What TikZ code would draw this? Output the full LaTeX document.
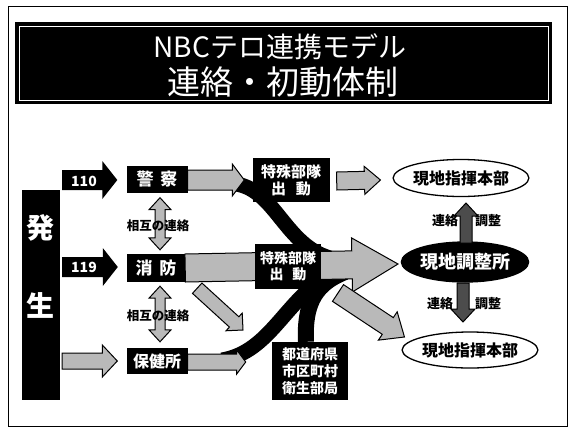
\documentclass[tikz,border=0pt]{standalone}
\usepackage{fontspec}
\newfontfamily\jp{Noto Sans CJK JP}
\usetikzlibrary{calc,shapes.geometric}
\newcommand\barrow[6]{%
 \path[#1] ($(#2)!#4!90:(#3)$) -- ($(#3)!#6!(#2)!#4!90:(#3)$) -- ($(#3)!#6!(#2)!#5!90:(#3)$) -- (#3)
 -- ($(#3)!#6!(#2)!#5!-90:(#3)$) -- ($(#3)!#6!(#2)!#4!-90:(#3)$) -- ($(#2)!#4!-90:(#3)$) -- cycle;}
\newcommand\dbarrow[6]{%
 \path[#1] (#2) -- ($(#2)!#6!(#3)!#5!90:(#3)$) -- ($(#2)!#6!(#3)!#4!90:(#3)$) -- ($(#3)!#6!(#2)!#4!90:(#3)$)
 -- ($(#3)!#6!(#2)!#5!90:(#3)$) -- (#3) -- ($(#3)!#6!(#2)!#5!-90:(#3)$) -- ($(#3)!#6!(#2)!#4!-90:(#3)$)
 -- ($(#2)!#6!(#3)!#4!-90:(#3)$) -- ($(#2)!#6!(#3)!#5!-90:(#3)$) -- cycle;}
\newcommand\fs[1]{\fontsize{#1}{#1}\selectfont}
\begin{document}
\begin{tikzpicture}[x=1pt,y=-1pt,
  blk/.style={fill=black, text=white, inner sep=0pt, font=\jp\bfseries},
  garr/.style={fill=gray!55, draw=black, line width=1pt},
  karr/.style={fill=black},
  darr/.style={fill=black!70, draw=black, line width=1pt},
  band/.style={draw=black, line width=15pt},
  oval/.style={ellipse, draw=black, line width=1.3pt, inner sep=0pt},
  lab/.style={font=\jp\bfseries\fs{13}, text=black, inner sep=0pt}]
\useasboundingbox (0,0) rectangle (571,429);
\fill[white] (0,0) rectangle (571,429);
\draw[line width=0.8pt] (8,6) rectangle (567,426);
% title banner
\node[blk, minimum width=537, minimum height=82] (banner) at (283.5,63) {};
\draw[white, line width=0.6pt] (19,26) rectangle (548,100);
\node[font=\jp\fs{28}, text=white] (t1) at (280,47) {NBCテロ連携モデル};
\node[font=\jp\fs{33}, text=white] (t2) at (283,82) {連絡・初動体制};
% left box
\node[blk, minimum width=38, minimum height=210] (hassei) at (41,295) {};
\node[font=\jp\bfseries\fs{28}, text=white] (hatsu) at (41,228) {発};
\node[font=\jp\bfseries\fs{28}, text=white] (sei) at (41,305) {生};
% main boxes
\node[blk, minimum width=61, minimum height=27, font=\jp\bfseries\fs{17}] (keisatsu) at (157,179) {警\hspace{7pt}察};
\node[blk, minimum width=58, minimum height=28, font=\jp\bfseries\fs{17}] (shobo) at (156,268) {消\hspace{7pt}防};
\node[blk, minimum width=61, minimum height=26, font=\jp\bfseries\fs{16}] (hokenjo) at (157,361) {保健所};
\node[blk, minimum width=77, minimum height=44, align=center, font=\jp\bfseries\fs{15}] (tok1) at (291,180) {特殊部隊\\[2pt]出\hspace{10pt}動};
% ellipses
\node[oval, fill=white, minimum width=118, minimum height=37, font=\jp\bfseries\fs{16}] (hq1) at (461,178) {現地指揮本部};
\node[oval, fill=black, text=white, minimum width=122, minimum height=40, font=\jp\bfseries\fs{18}] (chosei) at (465,262) {現地調整所};
\node[oval, fill=white, minimum width=124, minimum height=36, font=\jp\bfseries\fs{16}] (hq2) at (470,350) {現地指揮本部};
% coordinates
\coordinate (a1s) at ($(hassei.east |- keisatsu.center)+(2,1)$);
\coordinate (a1e) at ($(keisatsu.west)+(-9,1)$);
\coordinate (a2s) at ($(hassei.east |- shobo.center)+(2,-1)$);
\coordinate (a2e) at ($(shobo.west)+(-9,-1)$);
\coordinate (a3s) at ($(hassei.east |- hokenjo.center)+(2,0)$);
\coordinate (a3e) at ($(hokenjo.west)+(-9,0)$);
\coordinate (m1s) at ($(keisatsu.south)+(3,5)$);
\coordinate (m1e) at ($(shobo.north)+(4,-4)$);
\coordinate (m2s) at ($(shobo.south)+(4,4)$);
\coordinate (m2e) at ($(hokenjo.north)+(3,-6)$);
\coordinate (k1s) at ($(keisatsu.east)+(0,1)$);
\coordinate (k1e) at ($(tok1.west)+(-8,0)$);
\coordinate (bigs) at (shobo.east);
\coordinate (bigt) at (398,264);
\coordinate (h1s) at ($(hokenjo.east)+(0,1)$);
\coordinate (h1e) at ($(hokenjo.east)+(58,1)$);
\coordinate (s1s) at ($(shobo.south east)+(12,6)$);
\coordinate (s1e) at (243,330);
\coordinate (d2s) at (338,293);
\coordinate (d2e) at ($(hq2.west)+(3,-13)$);
\coordinate (t1s) at ($(tok1.east)+(7,1)$);
\coordinate (t1e) at ($(hq1.west)+(-12,2)$);
\coordinate (v1s) at (466,243);
\coordinate (v1e) at (466,203);
\coordinate (v2s) at (463,283);
\coordinate (v2e) at (463,322);
% todofuken box
\node[blk, minimum width=76, minimum height=58, align=center, font=\jp\bfseries\fs{14}] (todo) at (310,371) {都道府県\\[3pt]市区町村\\[3pt]衛生部局};
% black converging bands
\draw[band] (236,184) .. controls (275,190) and (285,245) .. (330,258);
\draw[band] (222,360) .. controls (270,352) and (285,300) .. (330,274);
\draw[band, line width=16pt] (todo.north -| 306,0) .. controls (304,300) and (318,283) .. (345,272);
% arrows from the left box
\barrow{karr}{a1s}{a1e}{10pt}{19pt}{15pt}
\barrow{karr}{a2s}{a2e}{10pt}{19pt}{15pt}
\barrow{garr}{a3s}{a3e}{8pt}{16pt}{15pt}
\node[font=\jp\bfseries\fs{14}, text=white] (l110) at (84,181) {110};
\node[font=\jp\bfseries\fs{14}, text=white] (l119) at (84,267) {119};
% mutual arrows
\dbarrow{garr}{m1s}{m1e}{5pt}{11pt}{12pt}
\dbarrow{garr}{m2s}{m2e}{5pt}{11pt}{12pt}
\node[lab, font=\jp\bfseries\fs{12.5}] (sogo1) at (158,226) {相互の連絡};
\node[lab, font=\jp\bfseries\fs{12.5}] (sogo2) at (158,316) {相互の連絡};
% grey arrows
\barrow{garr}{k1s}{k1e}{10pt}{16pt}{12pt}
\barrow{garr}{h1s}{h1e}{8pt}{12pt}{9pt}
\barrow{garr}{bigs}{bigt}{14pt}{27pt}{46pt}
\barrow{garr}{s1s}{s1e}{7pt}{12pt}{12pt}
\barrow{garr}{d2s}{d2e}{10pt}{17pt}{20pt}
\barrow{garr}{t1s}{t1e}{9pt}{14pt}{16pt}
% second special unit box (on the main arrow)
\node[blk, minimum width=66, minimum height=45, align=center, font=\jp\bfseries\fs{14}] (tok2) at (288,266) {特殊部隊\\[2pt]出\hspace{9pt}動};
% link arrows between ellipses
\barrow{darr}{v1s}{v1e}{6pt}{12pt}{13pt}
\barrow{darr}{v2s}{v2e}{6pt}{12pt}{13pt}
\node[lab] (r1) at (445,221) {連絡};
\node[lab] (c1) at (488,221) {調整};
\node[lab] (r2) at (440,304) {連絡};
\node[lab] (c2) at (488,304) {調整};
\end{tikzpicture}
\end{document}
